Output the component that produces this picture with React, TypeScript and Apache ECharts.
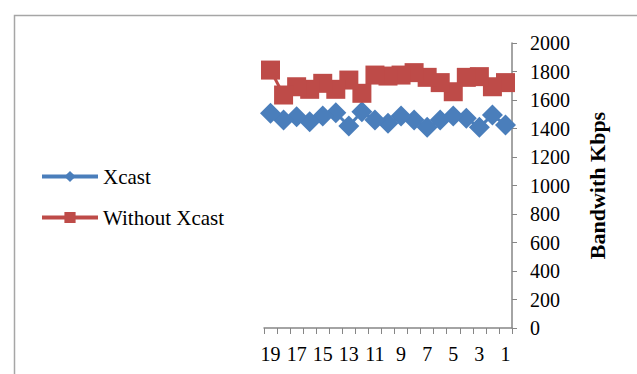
import React, { useEffect, useRef } from "react";
import * as echarts from "echarts";

// Sample index, listed 1..19 (axis is drawn reversed so 1 sits at the right)
const categories = ["1","2","3","4","5","6","7","8","9","10","11","12","13","14","15","16","17","18","19"];
const xcast = [1425,1495,1408,1472,1488,1460,1408,1460,1488,1436,1460,1518,1418,1511,1488,1448,1483,1460,1507];
const withoutXcast = [1722,1693,1764,1759,1658,1722,1759,1792,1775,1768,1775,1647,1740,1675,1717,1675,1693,1635,1810];
const yTicks = { min: 0, max: 2000, interval: 200 };

const FONT = '"Liberation Serif", "Times New Roman", serif';
const BLUE = "#4A7EBB";
const RED = "#BE4B48";
const AXIS = "#868686";

export default function App() {
  const ref = useRef<HTMLDivElement>(null);

  useEffect(() => {
    if (!ref.current) return;
    const chart = echarts.init(ref.current, null, { renderer: "svg" });
    chart.setOption({
      animation: false,
      backgroundColor: "#ffffff",
      textStyle: { fontFamily: FONT, color: "#000" },
      graphic: [
        {
          type: "rect",
          left: 12,
          top: 13,
          shape: { x: 0, y: 0, width: 700, height: 500 },
          style: { fill: "none", stroke: "#a6a6a6", lineWidth: 1.5 },
          silent: true,
        },
      ],
      legend: {
        orient: "vertical",
        left: 35,
        top: 161,
        itemWidth: 56,
        itemHeight: 14,
        itemGap: 20,
        lineStyle: { width: 4 },
        textStyle: { fontFamily: FONT, fontSize: 21, color: "#000" },
        data: ["Xcast", "Without Xcast"],
      },
      grid: { left: 264, right: 125, top: 43, bottom: 46, containLabel: false },
      xAxis: {
        type: "category",
        data: categories,
        inverse: true,
        boundaryGap: true,
        axisLine: { lineStyle: { color: AXIS, width: 1.5 } },
        axisTick: { show: true, length: 6, alignWithLabel: false, interval: 0, lineStyle: { color: AXIS } },
        axisLabel: { interval: 1, margin: 16, fontFamily: FONT, fontSize: 20, color: "#000" },
        splitLine: { show: false },
      },
      yAxis: {
        type: "value",
        position: "right",
        min: yTicks.min,
        max: yTicks.max,
        interval: yTicks.interval,
        name: "Bandwith Kbps",
        nameLocation: "middle",
        nameRotate: 90,
        nameGap: 74,
        nameTextStyle: { fontFamily: FONT, fontSize: 22, fontWeight: "bold", color: "#000" },
        axisLine: { show: true, lineStyle: { color: AXIS, width: 1.5 } },
        axisTick: { show: true, length: 5, lineStyle: { color: AXIS } },
        axisLabel: {
          margin: 18,
          fontFamily: FONT,
          fontSize: 20,
          color: "#000",
          formatter: (v: number) => String(v),
        },
        splitLine: { show: false },
      },
      series: [
        {
          name: "Xcast",
          type: "line",
          data: xcast,
          symbol: "diamond",
          symbolSize: 21,
          showAllSymbol: true,
          itemStyle: { color: BLUE },
          lineStyle: { color: BLUE, width: 3 },
        },
        {
          name: "Without Xcast",
          type: "line",
          data: withoutXcast,
          symbol: "rect",
          symbolSize: 19,
          showAllSymbol: true,
          itemStyle: { color: RED },
          lineStyle: { color: RED, width: 3 },
        },
      ],
    });
    return () => chart.dispose();
  }, []);

  return (
    <div
      ref={ref}
      style={{ position: "fixed", left: 0, top: 0, width: 637, height: 374 }}
    />
  );
}
